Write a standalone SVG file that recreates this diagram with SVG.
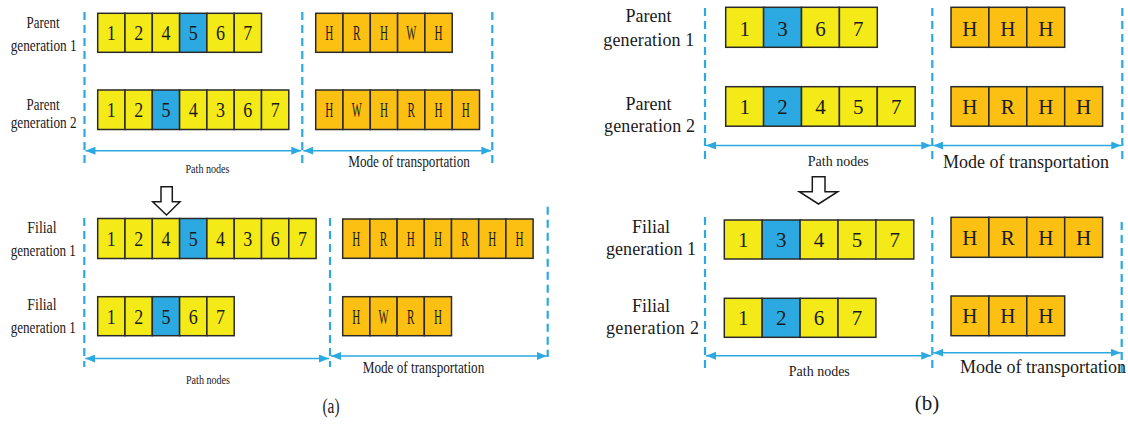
<svg xmlns="http://www.w3.org/2000/svg" width="1128" height="427" viewBox="0 0 1128 427">
<style>
.y{fill:#F4EA17;stroke:#2a2a2a;stroke-width:1.5}
.b{fill:#2BA9E0;stroke:#2a2a2a;stroke-width:1.5}
.o{fill:#FCC012;stroke:#2a2a2a;stroke-width:1.5}
.d{stroke:#2BA9E0;stroke-width:2.2;stroke-dasharray:8,5;fill:none}
.a{stroke:#2BA9E0;stroke-width:1.5;fill:none;marker-start:url(#ah);marker-end:url(#ah)}
text{font-family:"Liberation Serif","Times New Roman",serif;fill:#1a1a1a}
.ca{font-size:22px;text-anchor:middle}
.cb{font-size:21px;text-anchor:middle}
.la{font-size:17px;text-anchor:middle}
.lc{font-size:18px;text-anchor:middle}
.lb{font-size:18px;text-anchor:start}
.sa{font-size:12px;text-anchor:middle}
.ma{font-size:16px;text-anchor:middle}
.mb{font-size:18px;text-anchor:middle}
.hollow{fill:#fff;stroke:#1a1a1a;stroke-width:1.5}
</style>
<defs>
<marker id="ah" markerUnits="userSpaceOnUse" markerWidth="10" markerHeight="8" refX="10" refY="4" orient="auto-start-reverse">
<path d="M0,0 L10,4 L0,8 z" fill="#2BA9E0"/>
</marker>
</defs>
<rect width="1128" height="427" fill="#fff"/>

<g id="connectors">
<line class="d" x1="84.5" y1="12" x2="84.5" y2="163"/>
<line class="d" x1="302.3" y1="12" x2="302.3" y2="163"/>
<line class="d" x1="492.3" y1="12" x2="492.3" y2="164"/>
<line class="a" x1="85.5" y1="150.7" x2="301.3" y2="150.7"/>
<line class="a" x1="303.3" y1="150.7" x2="491.3" y2="150.7"/>
<line class="d" x1="84.3" y1="218" x2="84.3" y2="367"/>
<line class="d" x1="330" y1="218" x2="330" y2="367"/>
<line class="d" x1="547.7" y1="206.7" x2="547.7" y2="357"/>
<line class="a" x1="85.3" y1="358.5" x2="329" y2="358.5"/>
<line class="a" x1="331" y1="356" x2="546.7" y2="356"/>
<line class="d" x1="705" y1="8" x2="705" y2="160"/>
<line class="d" x1="932.3" y1="8" x2="932.3" y2="160"/>
<line class="d" x1="1122.3" y1="8" x2="1122.3" y2="160"/>
<line class="a" x1="706" y1="145.5" x2="931.3" y2="145.5"/>
<line class="a" x1="933.3" y1="145.5" x2="1121.3" y2="145.5"/>
<line class="d" x1="705" y1="217" x2="705" y2="368"/>
<line class="d" x1="932.3" y1="217" x2="932.3" y2="368"/>
<line class="d" x1="1121.7" y1="222" x2="1121.7" y2="375"/>
<line class="a" x1="706" y1="355.7" x2="931.3" y2="355.7"/>
<line class="a" x1="933.3" y1="352.7" x2="1120.7" y2="352.7"/>
<path class="hollow" d="M161,186.7 H172.3 V201.7 H180 L166.5,215 L152.7,201.7 H161 Z"/>
<path class="hollow" d="M812.3,176.7 H825 V191.7 H837.7 L818.5,204 L799.3,191.7 H812.3 Z"/>
</g>

<g id="labels-a">
<text class="la" x="43" y="27.7" textLength="33" lengthAdjust="spacingAndGlyphs">Parent</text>
<text class="la" x="43.7" y="50.5" textLength="66" lengthAdjust="spacingAndGlyphs">generation 1</text>
<text class="la" x="43" y="109.5" textLength="33" lengthAdjust="spacingAndGlyphs">Parent</text>
<text class="la" x="43.7" y="127.7" textLength="66" lengthAdjust="spacingAndGlyphs">generation 2</text>
<text class="la" x="42" y="233.3" textLength="29.3" lengthAdjust="spacingAndGlyphs">Filial</text>
<text class="la" x="43.3" y="255.7" textLength="65.3" lengthAdjust="spacingAndGlyphs">generation 1</text>
<text class="la" x="42" y="310" textLength="29.3" lengthAdjust="spacingAndGlyphs">Filial</text>
<text class="la" x="43.3" y="332.7" textLength="65.3" lengthAdjust="spacingAndGlyphs">generation 1</text>
<text class="sa" x="207.5" y="173.3" textLength="44" lengthAdjust="spacingAndGlyphs">Path nodes</text>
<text class="ma" x="409" y="166.7" textLength="121.7" lengthAdjust="spacingAndGlyphs">Mode of transportation</text>
<text class="sa" x="208" y="384" textLength="44" lengthAdjust="spacingAndGlyphs">Path nodes</text>
<text class="ma" x="423.5" y="373.3" textLength="121.6" lengthAdjust="spacingAndGlyphs">Mode of transportation</text>
<text class="ca" x="331" y="413" style="font-size:20px" textLength="17" lengthAdjust="spacingAndGlyphs">(a)</text>
</g>

<g id="labels-b">
<text class="lc" x="648.5" y="22">Parent</text>
<text class="lb" x="603.3" y="45.5" textLength="91" lengthAdjust="spacing">generation 1</text>
<text class="lc" x="648.5" y="110">Parent</text>
<text class="lb" x="604" y="132" textLength="91" lengthAdjust="spacing">generation 2</text>
<text class="lc" x="651" y="232.7">Filial</text>
<text class="lb" x="606" y="255" textLength="90" lengthAdjust="spacing">generation 1</text>
<text class="lc" x="651" y="311.7">Filial</text>
<text class="lb" x="606" y="334" textLength="93" lengthAdjust="spacing">generation 2</text>
<text class="sa" x="838.3" y="166" style="font-size:14px">Path nodes</text>
<text class="mb" x="1026" y="168">Mode of transportation</text>
<text class="sa" x="819.3" y="376" style="font-size:14px">Path nodes</text>
<text class="lb" x="960" y="373.3">Mode of transportation</text>
<text class="cb" x="927" y="410">(b)</text>
</g>

<g id="a-parent1-path">
<rect class="y" x="97.7" y="13.3" width="27.3" height="39"/>
<rect class="y" x="125" y="13.3" width="27.3" height="39"/>
<rect class="y" x="152.3" y="13.3" width="27.3" height="39"/>
<rect class="b" x="179.6" y="13.3" width="27.3" height="39"/>
<rect class="y" x="206.9" y="13.3" width="27.3" height="39"/>
<rect class="y" x="234.2" y="13.3" width="27.3" height="39"/>
<text class="ca" x="111.35" y="40.3" textLength="9" lengthAdjust="spacingAndGlyphs">1</text>
<text class="ca" x="138.65" y="40.3" textLength="9" lengthAdjust="spacingAndGlyphs">2</text>
<text class="ca" x="165.95" y="40.3" textLength="9" lengthAdjust="spacingAndGlyphs">4</text>
<text class="ca" x="193.25" y="40.3" textLength="9" lengthAdjust="spacingAndGlyphs">5</text>
<text class="ca" x="220.55" y="40.3" textLength="9" lengthAdjust="spacingAndGlyphs">6</text>
<text class="ca" x="247.85" y="40.3" textLength="9" lengthAdjust="spacingAndGlyphs">7</text>
</g>
<g id="a-parent2-path">
<rect class="y" x="97.7" y="90" width="27.3" height="39.5"/>
<rect class="y" x="125" y="90" width="27.3" height="39.5"/>
<rect class="b" x="152.3" y="90" width="27.3" height="39.5"/>
<rect class="y" x="179.6" y="90" width="27.3" height="39.5"/>
<rect class="y" x="206.9" y="90" width="27.3" height="39.5"/>
<rect class="y" x="234.2" y="90" width="27.3" height="39.5"/>
<rect class="y" x="261.5" y="90" width="27.3" height="39.5"/>
<text class="ca" x="111.35" y="117.3" textLength="9" lengthAdjust="spacingAndGlyphs">1</text>
<text class="ca" x="138.65" y="117.3" textLength="9" lengthAdjust="spacingAndGlyphs">2</text>
<text class="ca" x="165.95" y="117.3" textLength="9" lengthAdjust="spacingAndGlyphs">5</text>
<text class="ca" x="193.25" y="117.3" textLength="9" lengthAdjust="spacingAndGlyphs">4</text>
<text class="ca" x="220.55" y="117.3" textLength="9" lengthAdjust="spacingAndGlyphs">3</text>
<text class="ca" x="247.85" y="117.3" textLength="9" lengthAdjust="spacingAndGlyphs">6</text>
<text class="ca" x="275.15" y="117.3" textLength="9" lengthAdjust="spacingAndGlyphs">7</text>
</g>
<g id="a-parent1-mode">
<rect class="o" x="315.7" y="13.3" width="27.3" height="39"/>
<rect class="o" x="343" y="13.3" width="27.3" height="39"/>
<rect class="o" x="370.3" y="13.3" width="27.3" height="39"/>
<rect class="o" x="397.6" y="13.3" width="27.3" height="39"/>
<rect class="o" x="424.9" y="13.3" width="27.3" height="39"/>
<text class="ca" x="329.35" y="40" textLength="8" lengthAdjust="spacingAndGlyphs">H</text>
<text class="ca" x="356.65" y="40" textLength="7.5" lengthAdjust="spacingAndGlyphs">R</text>
<text class="ca" x="383.95" y="40" textLength="8" lengthAdjust="spacingAndGlyphs">H</text>
<text class="ca" x="411.25" y="40" textLength="10" lengthAdjust="spacingAndGlyphs">W</text>
<text class="ca" x="438.55" y="40" textLength="8" lengthAdjust="spacingAndGlyphs">H</text>
</g>
<g id="a-parent2-mode">
<rect class="o" x="315.7" y="90" width="27.3" height="39.5"/>
<rect class="o" x="343" y="90" width="27.3" height="39.5"/>
<rect class="o" x="370.3" y="90" width="27.3" height="39.5"/>
<rect class="o" x="397.6" y="90" width="27.3" height="39.5"/>
<rect class="o" x="424.9" y="90" width="27.3" height="39.5"/>
<rect class="o" x="452.2" y="90" width="27.3" height="39.5"/>
<text class="ca" x="329.35" y="117" textLength="8" lengthAdjust="spacingAndGlyphs">H</text>
<text class="ca" x="356.65" y="117" textLength="10" lengthAdjust="spacingAndGlyphs">W</text>
<text class="ca" x="383.95" y="117" textLength="8" lengthAdjust="spacingAndGlyphs">H</text>
<text class="ca" x="411.25" y="117" textLength="7.5" lengthAdjust="spacingAndGlyphs">R</text>
<text class="ca" x="438.55" y="117" textLength="8" lengthAdjust="spacingAndGlyphs">H</text>
<text class="ca" x="465.85" y="117" textLength="8" lengthAdjust="spacingAndGlyphs">H</text>
</g>
<g id="a-filial1-path">
<rect class="y" x="97.7" y="218.5" width="27.3" height="40"/>
<rect class="y" x="125" y="218.5" width="27.3" height="40"/>
<rect class="y" x="152.3" y="218.5" width="27.3" height="40"/>
<rect class="b" x="179.6" y="218.5" width="27.3" height="40"/>
<rect class="y" x="206.9" y="218.5" width="27.3" height="40"/>
<rect class="y" x="234.2" y="218.5" width="27.3" height="40"/>
<rect class="y" x="261.5" y="218.5" width="27.3" height="40"/>
<rect class="y" x="288.8" y="218.5" width="27.3" height="40"/>
<text class="ca" x="111.35" y="246.3" textLength="9" lengthAdjust="spacingAndGlyphs">1</text>
<text class="ca" x="138.65" y="246.3" textLength="9" lengthAdjust="spacingAndGlyphs">2</text>
<text class="ca" x="165.95" y="246.3" textLength="9" lengthAdjust="spacingAndGlyphs">4</text>
<text class="ca" x="193.25" y="246.3" textLength="9" lengthAdjust="spacingAndGlyphs">5</text>
<text class="ca" x="220.55" y="246.3" textLength="9" lengthAdjust="spacingAndGlyphs">4</text>
<text class="ca" x="247.85" y="246.3" textLength="9" lengthAdjust="spacingAndGlyphs">3</text>
<text class="ca" x="275.15" y="246.3" textLength="9" lengthAdjust="spacingAndGlyphs">6</text>
<text class="ca" x="302.45" y="246.3" textLength="9" lengthAdjust="spacingAndGlyphs">7</text>
</g>
<g id="a-filial2-path">
<rect class="y" x="97.7" y="296.7" width="27.3" height="39"/>
<rect class="y" x="125" y="296.7" width="27.3" height="39"/>
<rect class="b" x="152.3" y="296.7" width="27.3" height="39"/>
<rect class="y" x="179.6" y="296.7" width="27.3" height="39"/>
<rect class="y" x="206.9" y="296.7" width="27.3" height="39"/>
<text class="ca" x="111.35" y="323.8" textLength="9" lengthAdjust="spacingAndGlyphs">1</text>
<text class="ca" x="138.65" y="323.8" textLength="9" lengthAdjust="spacingAndGlyphs">2</text>
<text class="ca" x="165.95" y="323.8" textLength="9" lengthAdjust="spacingAndGlyphs">5</text>
<text class="ca" x="193.25" y="323.8" textLength="9" lengthAdjust="spacingAndGlyphs">6</text>
<text class="ca" x="220.55" y="323.8" textLength="9" lengthAdjust="spacingAndGlyphs">7</text>
</g>
<g id="a-filial1-mode">
<rect class="o" x="342.7" y="219" width="27.2" height="39.3"/>
<rect class="o" x="369.9" y="219" width="27.2" height="39.3"/>
<rect class="o" x="397.1" y="219" width="27.2" height="39.3"/>
<rect class="o" x="424.3" y="219" width="27.2" height="39.3"/>
<rect class="o" x="451.5" y="219" width="27.2" height="39.3"/>
<rect class="o" x="478.7" y="219" width="27.2" height="39.3"/>
<rect class="o" x="505.9" y="219" width="27.2" height="39.3"/>
<text class="ca" x="356.3" y="246" textLength="8" lengthAdjust="spacingAndGlyphs">H</text>
<text class="ca" x="383.5" y="246" textLength="7.5" lengthAdjust="spacingAndGlyphs">R</text>
<text class="ca" x="410.7" y="246" textLength="8" lengthAdjust="spacingAndGlyphs">H</text>
<text class="ca" x="437.9" y="246" textLength="8" lengthAdjust="spacingAndGlyphs">H</text>
<text class="ca" x="465.1" y="246" textLength="7.5" lengthAdjust="spacingAndGlyphs">R</text>
<text class="ca" x="492.3" y="246" textLength="8" lengthAdjust="spacingAndGlyphs">H</text>
<text class="ca" x="519.5" y="246" textLength="8" lengthAdjust="spacingAndGlyphs">H</text>
</g>
<g id="a-filial2-mode">
<rect class="o" x="342.7" y="296.7" width="27.2" height="39"/>
<rect class="o" x="369.9" y="296.7" width="27.2" height="39"/>
<rect class="o" x="397.1" y="296.7" width="27.2" height="39"/>
<rect class="o" x="424.3" y="296.7" width="27.2" height="39"/>
<text class="ca" x="356.3" y="323.5" textLength="8" lengthAdjust="spacingAndGlyphs">H</text>
<text class="ca" x="383.5" y="323.5" textLength="10" lengthAdjust="spacingAndGlyphs">W</text>
<text class="ca" x="410.7" y="323.5" textLength="7.5" lengthAdjust="spacingAndGlyphs">R</text>
<text class="ca" x="437.9" y="323.5" textLength="8" lengthAdjust="spacingAndGlyphs">H</text>
</g>

<g id="b-parent1-path">
<rect class="y" x="725.7" y="7.3" width="37.9" height="40"/>
<rect class="b" x="763.6" y="7.3" width="37.9" height="40"/>
<rect class="y" x="801.5" y="7.3" width="37.9" height="40"/>
<rect class="y" x="839.4" y="7.3" width="37.9" height="40"/>
<text class="cb" x="744.65" y="35.5">1</text>
<text class="cb" x="782.55" y="35.5">3</text>
<text class="cb" x="820.45" y="35.5">6</text>
<text class="cb" x="858.35" y="35.5">7</text>
</g>
<g id="b-parent2-path">
<rect class="y" x="725.7" y="86.7" width="37.9" height="39.5"/>
<rect class="b" x="763.6" y="86.7" width="37.9" height="39.5"/>
<rect class="y" x="801.5" y="86.7" width="37.9" height="39.5"/>
<rect class="y" x="839.4" y="86.7" width="37.9" height="39.5"/>
<rect class="y" x="877.3" y="86.7" width="37.9" height="39.5"/>
<text class="cb" x="744.65" y="114">1</text>
<text class="cb" x="782.55" y="114">2</text>
<text class="cb" x="820.45" y="114">4</text>
<text class="cb" x="858.35" y="114">5</text>
<text class="cb" x="896.25" y="114">7</text>
</g>
<g id="b-parent1-mode">
<rect class="o" x="951" y="7.3" width="37.9" height="40"/>
<rect class="o" x="988.9" y="7.3" width="37.9" height="40"/>
<rect class="o" x="1026.8" y="7.3" width="37.9" height="40"/>
<text class="cb" x="969.95" y="35.5">H</text>
<text class="cb" x="1007.85" y="35.5">H</text>
<text class="cb" x="1045.75" y="35.5">H</text>
</g>
<g id="b-parent2-mode">
<rect class="o" x="951" y="86.7" width="37.9" height="39.5"/>
<rect class="o" x="988.9" y="86.7" width="37.9" height="39.5"/>
<rect class="o" x="1026.8" y="86.7" width="37.9" height="39.5"/>
<rect class="o" x="1064.7" y="86.7" width="37.9" height="39.5"/>
<text class="cb" x="969.95" y="114">H</text>
<text class="cb" x="1007.85" y="114">R</text>
<text class="cb" x="1045.75" y="114">H</text>
<text class="cb" x="1083.65" y="114">H</text>
</g>
<g id="b-filial1-path">
<rect class="y" x="724.3" y="220" width="37.9" height="39"/>
<rect class="b" x="762.2" y="220" width="37.9" height="39"/>
<rect class="y" x="800.1" y="220" width="37.9" height="39"/>
<rect class="y" x="838" y="220" width="37.9" height="39"/>
<rect class="y" x="875.9" y="220" width="37.9" height="39"/>
<text class="cb" x="743.25" y="247">1</text>
<text class="cb" x="781.15" y="247">3</text>
<text class="cb" x="819.05" y="247">4</text>
<text class="cb" x="856.95" y="247">5</text>
<text class="cb" x="894.85" y="247">7</text>
</g>
<g id="b-filial2-path">
<rect class="y" x="724.3" y="298.3" width="37.9" height="39"/>
<rect class="b" x="762.2" y="298.3" width="37.9" height="39"/>
<rect class="y" x="800.1" y="298.3" width="37.9" height="39"/>
<rect class="y" x="838" y="298.3" width="37.9" height="39"/>
<text class="cb" x="743.25" y="325.3">1</text>
<text class="cb" x="781.15" y="325.3">2</text>
<text class="cb" x="819.05" y="325.3">6</text>
<text class="cb" x="856.95" y="325.3">7</text>
</g>
<g id="b-filial1-mode">
<rect class="o" x="951" y="217.3" width="37.9" height="40"/>
<rect class="o" x="988.9" y="217.3" width="37.9" height="40"/>
<rect class="o" x="1026.8" y="217.3" width="37.9" height="40"/>
<rect class="o" x="1064.7" y="217.3" width="37.9" height="40"/>
<text class="cb" x="969.95" y="244.8">H</text>
<text class="cb" x="1007.85" y="244.8">R</text>
<text class="cb" x="1045.75" y="244.8">H</text>
<text class="cb" x="1083.65" y="244.8">H</text>
</g>
<g id="b-filial2-mode">
<rect class="o" x="951" y="296" width="37.9" height="39.7"/>
<rect class="o" x="988.9" y="296" width="37.9" height="39.7"/>
<rect class="o" x="1026.8" y="296" width="37.9" height="39.7"/>
<text class="cb" x="969.95" y="323.4">H</text>
<text class="cb" x="1007.85" y="323.4">H</text>
<text class="cb" x="1045.75" y="323.4">H</text>
</g>
</svg>
